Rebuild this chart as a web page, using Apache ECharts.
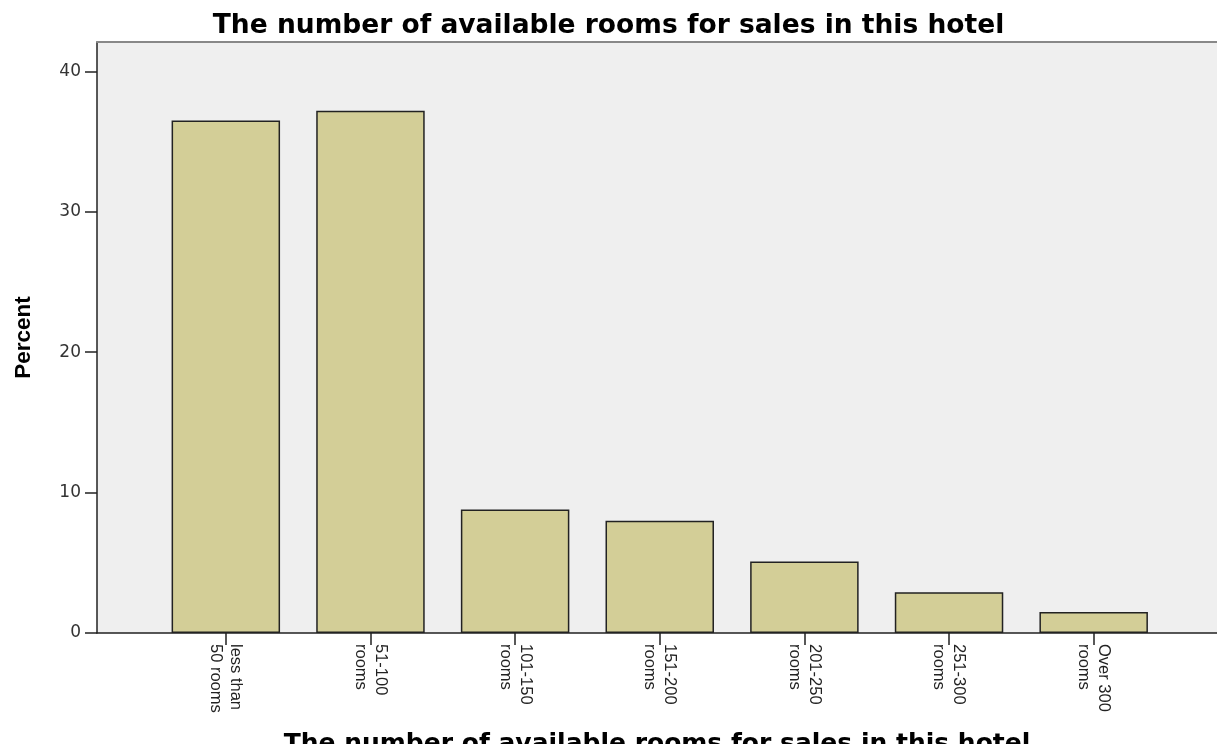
<!DOCTYPE html>
<html>
<head>
<meta charset="utf-8">
<script src="https://cdn.jsdelivr.net/npm/echarts@6/dist/echarts.min.js"></script>
<style>
  html, body { margin: 0; padding: 0; background: #fff; }
  #box1 { width: 1217px; height: 744px; }
</style>
</head>
<body>
<div id="box1"></div>
<script>
// 数据
var categories = ['less than\n50 rooms', '51-100\nrooms', '101-150\nrooms', '151-200\nrooms', '201-250\nrooms', '251-300\nrooms', 'Over 300\nrooms']
var percents = [36.5, 37.2, 8.8, 8.0, 5.1, 2.9, 1.5]
var yTicks = [0, 10, 20, 30, 40]
var titleText = 'The number of available rooms for sales in this hotel'

var MyEcharts1 = echarts.init(document.getElementById('box1'))

var yMax = 42.1

var option1 = {
    animation: false,

    // 标题
    title: {
        text: titleText,
        left: 'center',
        top: 8,
        textStyle: {
            fontFamily: 'DejaVu Sans',
            fontWeight: 'bold',
            fontSize: 26.5,
            color: '#000'
        }
    },

    // 背景网格 + 数据网格
    grid: [
        { left: 97, right: 0, top: 42, bottom: 111, show: true, backgroundColor: '#efefef', borderWidth: 0, outerBoundsMode: 'none', containLabel: false },
        { left: 153.5, right: 51, top: 42, bottom: 111, outerBoundsMode: 'none', containLabel: false }
    ],

    xAxis: [
        {
            gridIndex: 0, type: 'value', min: 0, max: 1, position: 'bottom',
            axisLine: { show: true, lineStyle: { color: '#222', width: 1.5 } },
            axisTick: { show: false }, axisLabel: { show: false }, splitLine: { show: false },
            name: titleText,
            nameLocation: 'middle',
            nameGap: 99,
            nameTextStyle: { fontFamily: 'DejaVu Sans', fontWeight: 'bold', fontSize: 25, color: '#000' }
        },
        {
            gridIndex: 0, type: 'value', min: 0, max: 1, position: 'top',
            axisLine: { show: true, lineStyle: { color: '#888', width: 2 } },
            axisTick: { show: false }, axisLabel: { show: false }, splitLine: { show: false }
        },
        {
            gridIndex: 1, type: 'category', data: categories,
            axisLine: { show: false },
            axisTick: { show: true, alignWithLabel: true, length: 12, lineStyle: { color: '#222', width: 1.5 } },
            axisLabel: {
                rotate: -90,
                margin: 11,
                interval: 0,
                fontFamily: 'Liberation Sans',
                fontSize: 16.5,
                lineHeight: 20,
                color: '#222'
            }
        }
    ],

    yAxis: [
        {
            gridIndex: 0, type: 'value', min: 0, max: yMax, interval: 10,
            axisLine: { show: true, lineStyle: { color: '#222', width: 1.5 } },
            axisTick: { show: true, length: 12, customValues: yTicks, lineStyle: { color: '#222', width: 1.5 } },
            axisLabel: {
                margin: 16,
                customValues: yTicks,
                fontFamily: 'DejaVu Sans',
                fontSize: 17,
                color: '#333'
            },
            splitLine: { show: false },
            name: 'Percent',
            nameLocation: 'middle',
            nameGap: 62,
            nameTextStyle: { fontFamily: 'Liberation Sans', fontWeight: 'bold', fontSize: 22.5, color: '#000' }
        },
        {
            gridIndex: 1, type: 'value', min: 0, max: yMax, show: false
        }
    ],

    series: [
        {
            name: 'Percent',
            type: 'bar',
            xAxisIndex: 2,
            yAxisIndex: 1,
            barWidth: '75%',
            data: percents,
            itemStyle: {
                color: '#d3ce97',
                borderColor: '#222',
                borderWidth: 1.5
            }
        }
    ]
}

MyEcharts1.setOption(option1)
</script>
</body>
</html>
